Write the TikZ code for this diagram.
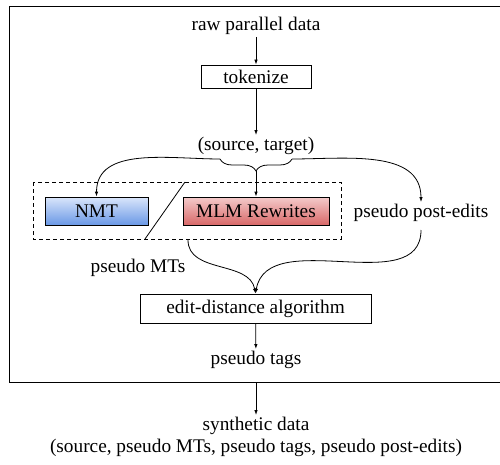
\documentclass[tikz,border=0pt]{standalone}
\usepackage{fontspec}
\setmainfont{Liberation Serif}
\usepackage{tikz}
\usetikzlibrary{arrows.meta,decorations.pathreplacing}
\definecolor{nmttop}{HTML}{DAE6FB}
\definecolor{nmtbot}{HTML}{6A98E6}
\definecolor{mlmtop}{HTML}{F4CBCB}
\definecolor{mlmbot}{HTML}{D86868}
\tikzstyle{block} = [rectangle, draw, line width=0.8pt, text centered, inner sep=0pt]
\tikzstyle{txt} = [inner sep=2pt]
\tikzstyle{arr} = [-{Latex[length=5pt,width=3.5pt]}, line width=0.8pt]

\begin{document}
\begin{tikzpicture}[x=1pt, y=-1pt, font=\fontsize{19.3}{22}\selectfont]
\useasboundingbox (0,0) rectangle (500,465);
\draw[line width=1pt] (9,7) rectangle (505,382);

\node[txt] (raw) at (256,26) {raw parallel data};
\node[block, minimum width=110pt, minimum height=23pt] (tok) at (256,76.5) {tokenize};
\node[txt] (st) at (256,146) {(source, target)};

\draw[dashed, dash pattern=on 4pt off 3pt, line width=0.8pt] (33,182) rectangle (341,239);
\node[block, top color=nmttop, bottom color=nmtbot, minimum width=103pt, minimum height=28pt] (nmt) at (96.5,211) {NMT};
\node[block, top color=mlmtop, bottom color=mlmbot, minimum width=146pt, minimum height=28pt] (mlm) at (256,211) {MLM Rewrites};
\node[txt] (ppe) at (421,213) {pseudo post-edits};
\node[txt] (pmt) at (138,268) {pseudo MTs};
\node[block, minimum width=231pt, minimum height=29pt] (edit) at (255.5,308.5) {edit-distance algorithm};
\node[txt] (tags) at (256,360) {pseudo tags};
\node[txt, align=center] (syn) at (256,437) {synthetic data \\ (source, pseudo MTs, pseudo tags, pseudo post-edits)};

\coordinate (bl) at (220,159);
\coordinate (br) at (292,159);
\coordinate (bm) at (256,171);
\coordinate (dtop) at (185,182);
\coordinate (dbot) at (145,239);
\coordinate (dout) at (188,240);
\coordinate (ppeout) at (421,230);
\coordinate (outbot) at (256,382);

\draw[arr] (raw) -- (tok);
\draw[arr] (tok) -- (st);
\draw[line width=0.8pt, decorate, decoration={brace, amplitude=12pt}] (br) -- (bl);
\draw[arr] (bl) to[out=180, in=90] (nmt.north);
\draw[arr] (br) to[out=0, in=90] (ppe.north);
\draw[arr] (bm) -- (mlm.north);
\draw[line width=0.8pt] (dtop) -- (dbot);
\draw[arr] (dout) to[out=-90, in=100] (edit.north);
\draw[arr] (ppeout) to[out=-90, in=80] (edit.north);
\draw[arr] (edit) -- (tags);
\draw[arr] (outbot) -- (syn);

\end{tikzpicture}
\end{document}
